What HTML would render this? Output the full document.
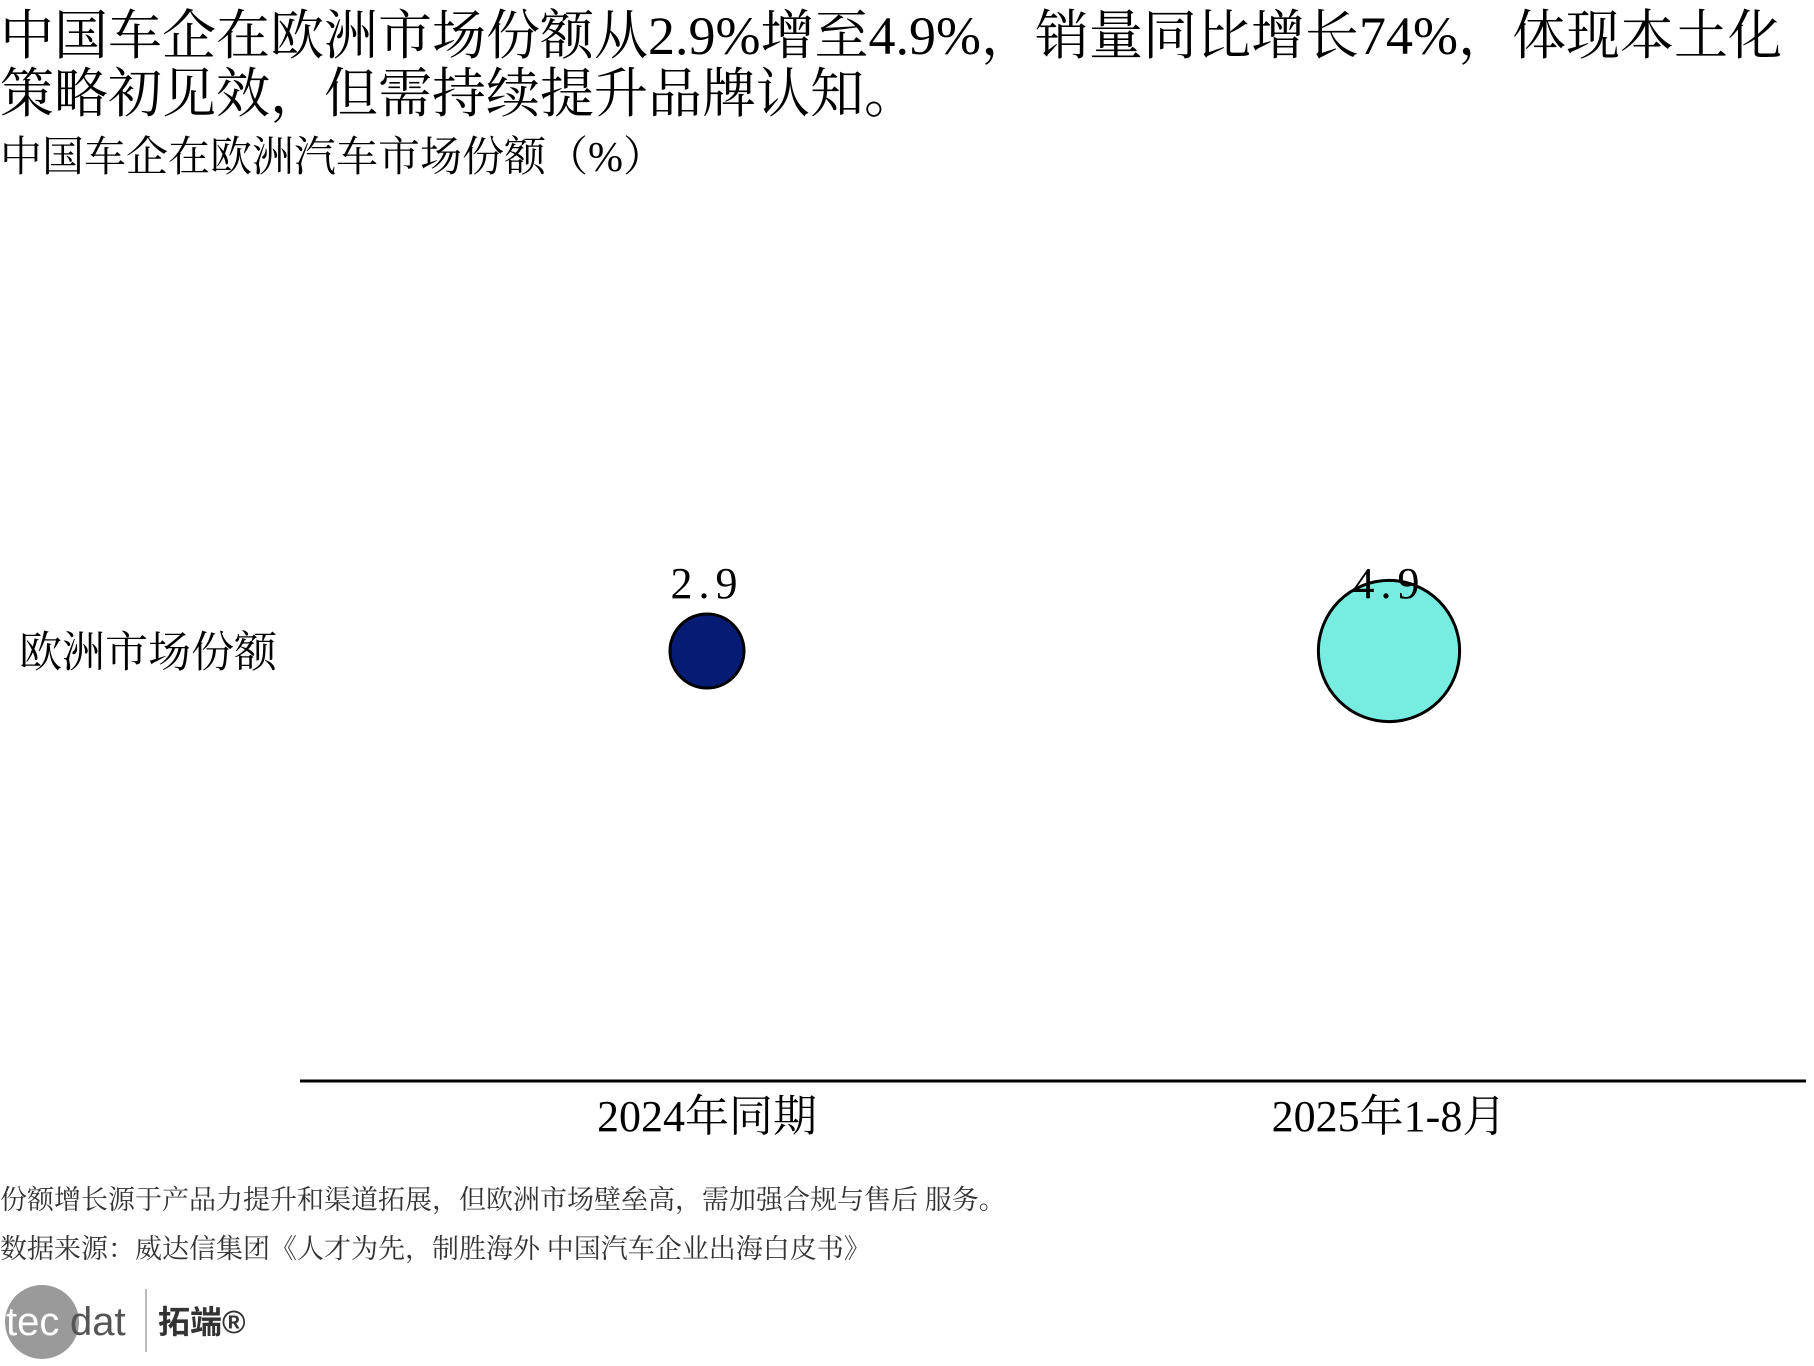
<!DOCTYPE html>
<html><head><meta charset="utf-8"><style>
body{margin:0;background:#fff;}
svg text{font-family:"Liberation Serif","Noto Serif CJK SC",serif;fill:#000;}
</style></head><body>
<svg id="chart" width="1814" height="1361" viewBox="0 0 1814 1361" xmlns="http://www.w3.org/2000/svg">
<text x="0" y="54" font-size="54">中国车企在欧洲市场份额从2.9%增至4.9%，销量同比增长74%，体现本土化</text>
<text x="0" y="112" font-size="54">策略初见效，但需持续提升品牌认知。</text>
<text x="0" y="171" font-size="42">中国车企在欧洲汽车市场份额（%）</text>
<text x="19" y="667" font-size="43">欧洲市场份额</text>
<line x1="300" y1="1081" x2="1806" y2="1081" stroke="#000" stroke-width="3"/>
<g id="marks"></g>
<text x="0" y="1209" font-size="27" style="fill:#333">份额增长源于产品力提升和渠道拓展，但欧洲市场壁垒高，需加强合规与售后 服务。</text>
<text x="0" y="1258" font-size="27" style="fill:#333">数据来源：威达信集团《人才为先，制胜海外 中国汽车企业出海白皮书》</text>
<g>
<circle cx="42" cy="1322" r="37" fill="#9a9a9a"/>
<text x="6" y="1335" font-size="40" style="font-family:'Liberation Sans',sans-serif;fill:#fff">tec</text>
<text x="70" y="1335" font-size="40" style="font-family:'Liberation Sans',sans-serif;fill:#555">dat</text>
<line x1="146" y1="1289" x2="146" y2="1352" stroke="#bbb" stroke-width="2"/>
<text x="158" y="1333" font-size="32" font-weight="bold" style="font-family:'Liberation Sans','Noto Sans CJK SC',sans-serif;fill:#333">拓端®</text>
</g>
</svg>
<script>
const categories = ["2024年同期", "2025年1-8月"];
const values = [2.9, 4.9];
const valueLabels = ["2.9", "4.9"];
const colors = ["#061c74", "#77ede2"];
const svg = document.getElementById('marks');
const NS = "http://www.w3.org/2000/svg";
function xScale(i){ return 707 + i * 682; }
function rScale(v){ return 16.8 * v - 11.7; }
const cy = 651;
categories.forEach((c, i) => {
  const circ = document.createElementNS(NS, 'circle');
  circ.setAttribute('cx', xScale(i));
  circ.setAttribute('cy', cy);
  circ.setAttribute('r', rScale(values[i]));
  circ.setAttribute('fill', colors[i]);
  circ.setAttribute('stroke', '#000');
  circ.setAttribute('stroke-width', '3');
  
  
  svg.appendChild(circ);
  const lab = document.createElementNS(NS, 'text');
  lab.setAttribute('x', xScale(i));
  lab.setAttribute('y', 598);
  lab.setAttribute('font-size', '44');
  lab.setAttribute('text-anchor', 'middle');
  lab.setAttribute('letter-spacing', '6');
  lab.textContent = valueLabels[i];
  
  
  svg.appendChild(lab);
  const xl = document.createElementNS(NS, 'text');
  xl.setAttribute('x', xScale(i));
  xl.setAttribute('y', 1131);
  xl.setAttribute('font-size', '44');
  xl.setAttribute('text-anchor', 'middle');
  xl.textContent = c;
  
  
  svg.appendChild(xl);
});
</script>
</body></html>
